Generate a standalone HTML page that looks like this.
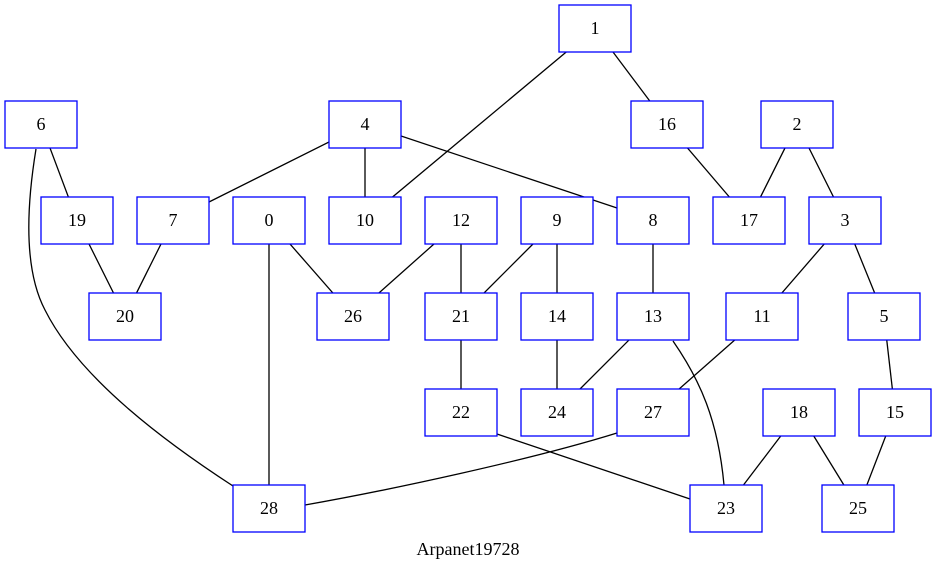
<!DOCTYPE html>
<html><head><meta charset="utf-8"><style>
html,body{margin:0;padding:0;background:#fff;}
svg{display:block;}
text{font-family:"Liberation Serif",serif;font-size:18px;text-anchor:middle;fill:#000;}
</style></head><body>
<svg width="937" height="575" viewBox="0 0 937 575">
<g stroke="#000" stroke-width="1.3" fill="none">
<line x1="595" y1="28" x2="365" y2="220"/>
<line x1="595" y1="28" x2="667" y2="124"/>
<line x1="41" y1="124" x2="77" y2="220"/>
<path d="M36,149 C26,210 24,270 45,310 C80,380 170,445 233,486"/>
<line x1="365" y1="124" x2="173" y2="220"/>
<line x1="365" y1="124" x2="365" y2="220"/>
<line x1="365" y1="124" x2="653" y2="220"/>
<line x1="667" y1="124" x2="749" y2="220"/>
<line x1="797" y1="124" x2="749" y2="220"/>
<line x1="797" y1="124" x2="845" y2="220"/>
<line x1="77" y1="220" x2="125" y2="316"/>
<line x1="173" y1="220" x2="125" y2="316"/>
<line x1="269" y1="220" x2="353" y2="316"/>
<line x1="269" y1="220" x2="269" y2="508"/>
<line x1="461" y1="220" x2="353" y2="316"/>
<line x1="461" y1="220" x2="461" y2="316"/>
<line x1="557" y1="220" x2="461" y2="316"/>
<line x1="557" y1="220" x2="557" y2="316"/>
<line x1="653" y1="220" x2="653" y2="316"/>
<line x1="845" y1="220" x2="762" y2="316"/>
<line x1="845" y1="220" x2="884" y2="316"/>
<line x1="461" y1="316" x2="461" y2="412"/>
<line x1="557" y1="316" x2="557" y2="412"/>
<line x1="653" y1="316" x2="557" y2="412"/>
<path d="M673,341 C700,380 718,420 724,485"/>
<line x1="762" y1="316" x2="653" y2="412"/>
<line x1="884" y1="316" x2="895" y2="412"/>
<line x1="497" y1="434" x2="690" y2="499"/>
<path d="M617,433 C530,460 390,490 305,505"/>
<line x1="799" y1="412" x2="726" y2="508"/>
<line x1="799" y1="412" x2="858" y2="508"/>
<line x1="895" y1="412" x2="858" y2="508"/>
</g>
<g fill="#fff" stroke="#0000ff" stroke-width="1.3">
<rect x="559" y="5" width="72" height="47"/>
<rect x="5" y="101" width="72" height="47"/>
<rect x="329" y="101" width="72" height="47"/>
<rect x="631" y="101" width="72" height="47"/>
<rect x="761" y="101" width="72" height="47"/>
<rect x="41" y="197" width="72" height="47"/>
<rect x="137" y="197" width="72" height="47"/>
<rect x="233" y="197" width="72" height="47"/>
<rect x="329" y="197" width="72" height="47"/>
<rect x="425" y="197" width="72" height="47"/>
<rect x="521" y="197" width="72" height="47"/>
<rect x="617" y="197" width="72" height="47"/>
<rect x="713" y="197" width="72" height="47"/>
<rect x="809" y="197" width="72" height="47"/>
<rect x="89" y="293" width="72" height="47"/>
<rect x="317" y="293" width="72" height="47"/>
<rect x="425" y="293" width="72" height="47"/>
<rect x="521" y="293" width="72" height="47"/>
<rect x="617" y="293" width="72" height="47"/>
<rect x="726" y="293" width="72" height="47"/>
<rect x="848" y="293" width="72" height="47"/>
<rect x="425" y="389" width="72" height="47"/>
<rect x="521" y="389" width="72" height="47"/>
<rect x="617" y="389" width="72" height="47"/>
<rect x="763" y="389" width="72" height="47"/>
<rect x="859" y="389" width="72" height="47"/>
<rect x="233" y="485" width="72" height="47"/>
<rect x="690" y="485" width="72" height="47"/>
<rect x="822" y="485" width="72" height="47"/>
</g>
<g>
<text x="595" y="34">1</text>
<text x="41" y="130">6</text>
<text x="365" y="130">4</text>
<text x="667" y="130">16</text>
<text x="797" y="130">2</text>
<text x="77" y="226">19</text>
<text x="173" y="226">7</text>
<text x="269" y="226">0</text>
<text x="365" y="226">10</text>
<text x="461" y="226">12</text>
<text x="557" y="226">9</text>
<text x="653" y="226">8</text>
<text x="749" y="226">17</text>
<text x="845" y="226">3</text>
<text x="125" y="322">20</text>
<text x="353" y="322">26</text>
<text x="461" y="322">21</text>
<text x="557" y="322">14</text>
<text x="653" y="322">13</text>
<text x="762" y="322">11</text>
<text x="884" y="322">5</text>
<text x="461" y="418">22</text>
<text x="557" y="418">24</text>
<text x="653" y="418">27</text>
<text x="799" y="418">18</text>
<text x="895" y="418">15</text>
<text x="269" y="514">28</text>
<text x="726" y="514">23</text>
<text x="858" y="514">25</text>
<text x="468" y="555">Arpanet19728</text>
</g>
</svg>
</body></html>
